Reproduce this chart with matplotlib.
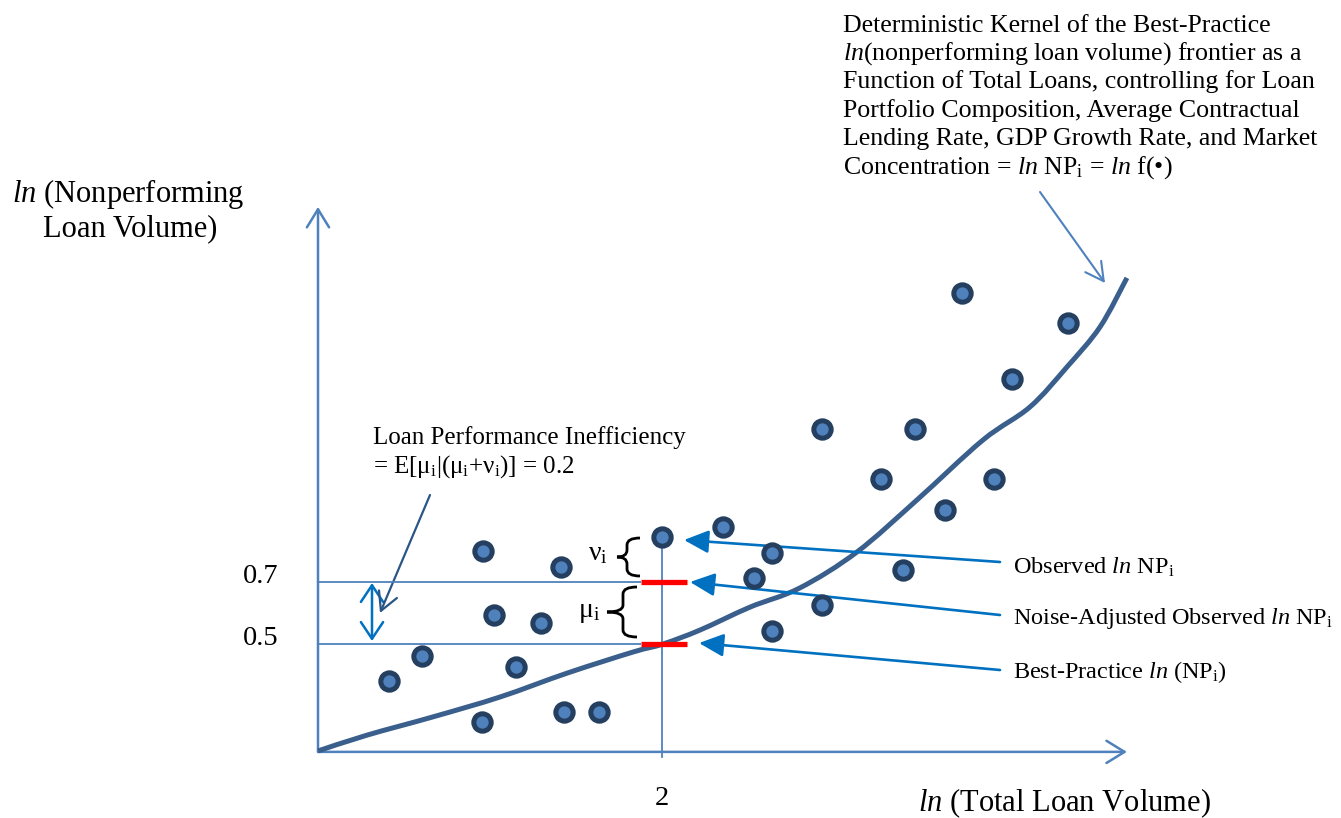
import matplotlib
matplotlib.use("Agg")
import matplotlib.pyplot as plt
import matplotlib.transforms as mtransforms
from matplotlib.patches import FancyArrowPatch, PathPatch
from matplotlib.path import Path

plt.rcParams['font.family'] = ['Liberation Serif', 'DejaVu Serif']
plt.rcParams['mathtext.fontset'] = 'custom'
plt.rcParams['mathtext.rm'] = 'Liberation Serif'
plt.rcParams['mathtext.it'] = 'Liberation Serif:italic'
plt.rcParams['mathtext.bf'] = 'Liberation Serif:bold'

# ---- data (ln total loans, ln nonperforming loans) ----
bank_x = [0.413, 0.605, 0.953, 0.959, 1.023, 1.151, 1.297, 1.413, 1.430, 1.634,
          2.000, 2.355, 2.535, 2.640, 2.640, 2.930, 2.930, 3.273, 3.401, 3.471,
          3.645, 3.930, 4.035, 3.744, 4.360]
bank_y = [0.381, 0.461, 0.248, 0.800, 0.594, 0.426, 0.568, 0.748, 0.281, 0.281,
          0.845, 0.877, 0.713, 0.794, 0.542, 0.626, 1.194, 1.032, 0.739, 1.194,
          0.932, 1.032, 1.355, 1.632, 1.535]
frontier_x = [0.0, 0.285, 0.669, 1.058, 1.448, 1.831, 2.006, 2.221, 2.512, 2.802,
              3.134, 3.483, 3.866, 4.140, 4.355, 4.547, 4.703]
frontier_y = [0.155, 0.206, 0.265, 0.329, 0.406, 0.474, 0.500, 0.545, 0.619, 0.681,
              0.797, 0.965, 1.158, 1.265, 1.394, 1.523, 1.681]
bank_i_x = 2.0
noise_adjusted = 0.7
best_practice = 0.5
observed = 0.845
ytick_vals = [0.7, 0.5]
ytick_labels = ['0.7', '0.5']
xtick_vals = [2.0]
xtick_labels = ['2']
origin = (0.0, 0.152)
x_end = 4.703
y_end = 1.910

W, H = 1341, 818
fig = plt.figure(figsize=(W / 100, H / 100), dpi=100)
ax = fig.add_axes([0, 0, 1, 1])
ax.set_xlim(-318 / 172, (W - 318) / 172)
ax.set_ylim(0.5 + (644 - H) / 310, 0.5 + 644 / 310)
ax.axis('off')

# pixel-space transform for annotations
P = mtransforms.Affine2D().scale(1 / W, -1 / H).translate(0, 1) + fig.transFigure

axis_c = '#4F81BD'
arrow_c = '#0070C0'

# axes
ax.add_patch(FancyArrowPatch(origin, (origin[0], y_end), arrowstyle='->,head_length=1.3,head_width=0.8',
                             mutation_scale=10, color=axis_c, lw=1.8, shrinkA=0, shrinkB=0))
ax.add_patch(FancyArrowPatch(origin, (x_end, origin[1]), arrowstyle='->,head_length=1.3,head_width=0.8',
                             mutation_scale=10, color=axis_c, lw=1.8, shrinkA=0, shrinkB=0))

# reference lines
bar_left = 1.878
bar_right = 2.145
for yv in ytick_vals:
    ax.plot([origin[0], bar_left], [yv, yv], color=axis_c, lw=1.3, solid_capstyle='butt')
ax.plot([bank_i_x, bank_i_x], [0.135, observed], color=axis_c, lw=1.3)

# frontier: smooth curve through the read points (Catmull-Rom -> cubic Bezier)
pts = list(zip(frontier_x, frontier_y))
verts = [pts[0]]
codes = [Path.MOVETO]
for i in range(len(pts) - 1):
    p0 = pts[i - 1] if i > 0 else pts[i]
    p1 = pts[i]
    p2 = pts[i + 1]
    p3 = pts[i + 2] if i + 2 < len(pts) else pts[i + 1]
    c1 = (p1[0] + (p2[0] - p0[0]) / 6, p1[1] + (p2[1] - p0[1]) / 6)
    c2 = (p2[0] - (p3[0] - p1[0]) / 6, p2[1] - (p3[1] - p1[1]) / 6)
    verts += [c1, c2, p2]
    codes += [Path.CURVE4] * 3
ax.add_patch(PathPatch(Path(verts, codes), fill=False, ec='#3A5F8C', lw=3.6, capstyle='butt'))

# red bars
for yv in [noise_adjusted, best_practice]:
    ax.plot([bar_left, bar_right], [yv, yv], color='#FF0000', lw=3.8, solid_capstyle='butt')

# dots
ax.plot(bank_x, bank_y, 'o', ms=12.5, mfc='#4F81BD', mec='#243F60', mew=3.6, zorder=5)


def txt(x, y, s, **kw):
    kw.setdefault('fontsize', 17.5)
    ax.text(x, y, s, transform=P, ha=kw.pop('ha', 'left'), va='baseline', **kw)


# tick labels
for yv, lab in zip(ytick_vals, ytick_labels):
    txt(243, 644 - (yv - 0.5) * 310 + 1, lab, fontsize=20.5)
for xv, lab in zip(xtick_vals, xtick_labels):
    txt(318 + xv * 172, 805, lab, fontsize=20.5, ha='center')

# axis titles
txt(918, 811, r'$\mathit{ln}$ (Total Loan Volume)', fontsize=22)
txt(12, 202, r'$\mathit{ln}$ (Nonperforming', fontsize=22)
txt(43, 236, 'Loan Volume)', fontsize=22)

# top annotation
top_lines = ['Deterministic Kernel of the Best-Practice',
             r'$\mathit{ln(}$nonperforming loan volume) frontier as a',
             'Function of Total Loans, controlling for Loan',
             'Portfolio Composition, Average Contractual',
             'Lending Rate, GDP Growth Rate, and Market',
             r'Concentration = $\mathit{ln}$ NP$_\mathrm{i}$ = $\mathit{ln}$ f(•)']
for k, line in enumerate(top_lines):
    txt(843, 31.7 + 28.33 * k, line, fontsize=18.6)

# inefficiency text
txt(373, 444, 'Loan Performance Inefficiency', fontsize=18)
txt(373, 473, r'= E[μ$_\mathrm{i}$|(μ$_\mathrm{i}$+ν$_\mathrm{i}$)] = 0.2', fontsize=18)

# right labels
txt(1013, 574, r'Observed $\mathit{ln}$ NP$_\mathrm{i}$')
txt(1013, 624, r'Noise-Adjusted Observed $\mathit{ln}$ NP$_\mathrm{i}$')
txt(1013, 678, r'Best-Practice $\mathit{ln}$ (NP$_\mathrm{i}$)')

# greek labels
txt(588, 560, r'ν$_\mathrm{i}$', fontsize=20)
txt(578, 617, r'μ$_\mathrm{i}$', fontsize=20)


# braces
def brace(xe, xm, xt, y0, y1):
    ym = (y0 + y1) / 2
    r = 7
    v = [(xe, y0), (xm, y0), (xm, y0 + r),
         (xm, ym - r), (xm, ym), (xt, ym),
         (xm, ym), (xm, ym + r),
         (xm, y1 - r), (xm, y1), (xe, y1)]
    c = [Path.MOVETO, Path.CURVE3, Path.CURVE3,
         Path.LINETO, Path.CURVE3, Path.CURVE3,
         Path.CURVE3, Path.CURVE3,
         Path.LINETO, Path.CURVE3, Path.CURVE3]
    ax.add_patch(PathPatch(Path(v, c), transform=P, fill=False, lw=2.0, ec='black'))


brace(640, 627, 617, 538, 576)
brace(637, 623, 607, 587, 637)


# pointer arrows
def arrow(a, b, style, color, lw, ms=10):
    ax.add_patch(FancyArrowPatch(a, b, transform=P, arrowstyle=style, mutation_scale=ms,
                                 color=color, lw=lw, shrinkA=0, shrinkB=0))


filled = '-|>,head_length=1.5,head_width=0.7'
arrow((1000, 562), (684, 540), filled, arrow_c, 1.9)
arrow((1000, 615), (690, 582), filled, arrow_c, 1.9)
arrow((1000, 670), (699, 643), filled, arrow_c, 1.9)
arrow((372, 641), (372, 583), '<->,head_length=1.2,head_width=0.8', arrow_c, 1.8)
arrow((430, 495), (380, 613), '->,head_length=1.3,head_width=0.7', '#2A5585', 1.6)
arrow((1040, 192), (1105, 283), '->,head_length=1.3,head_width=0.7', axis_c, 1.5)

fig.savefig('out.png', dpi=100)
